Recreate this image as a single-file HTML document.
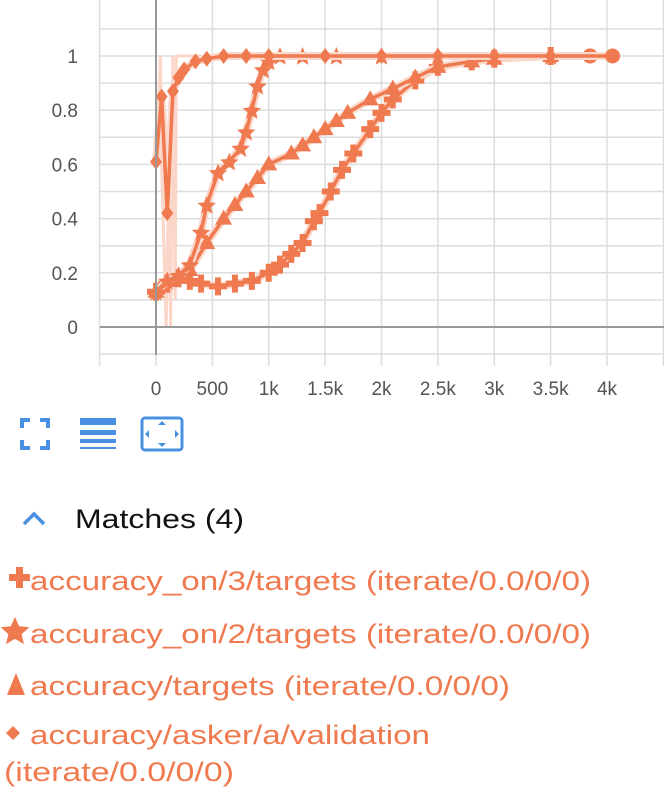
<!DOCTYPE html>
<html><head><meta charset="utf-8">
<style>
html,body{margin:0;padding:0;background:#fff;width:664px;height:796px;overflow:hidden}
svg{display:block;font-family:"Liberation Sans",sans-serif}
</style></head>
<body>
<svg id="root" width="664" height="796" viewBox="0 0 664 796">
<g id="grid"></g>
<g id="series"></g>
<g id="axes"></g>

<g fill="none" stroke="#4a90e2" stroke-width="4">
<path d="M22 428v-8h8M40 420h8v8M48 440v8h-8M30 448h-8v-8"/>
</g>
<g fill="#4a90e2">
<rect x="80" y="418" width="36" height="7"/><rect x="80" y="430" width="36" height="5"/><rect x="80" y="439" width="36" height="4"/><rect x="80" y="447" width="36" height="2"/>
</g>
<g>
<rect x="142" y="418" width="40" height="32" rx="3" fill="none" stroke="#4a90e2" stroke-width="3"/>
<path d="M162 421l4 4h-8zM162 447l4-4h-8zM145 434l4-4v8zM179 434l-4-4v8z" fill="#4a90e2"/>
</g>
<path d="M24 524l10-10 10 10" fill="none" stroke="#4a90e2" stroke-width="3.5"/>
<text x="75" y="528" font-size="27" fill="#111" textLength="169" lengthAdjust="spacingAndGlyphs">Matches (4)</text>

<g fill="#f07a50" font-size="27">
<path d="M9 574h7v-7h7v7h7v7h-7v7h-7v-7h-7z"/>
<text x="30" y="590" textLength="561" lengthAdjust="spacingAndGlyphs">accuracy_on/3/targets (iterate/0.0/0/0)</text>
<path d="M15 617l4.2 9.3 10.1 1-7.6 6.8 2.2 10-8.9-5.2-8.9 5.2 2.2-10-7.6-6.8 10.1-1z"/>
<text x="30" y="643" textLength="561" lengthAdjust="spacingAndGlyphs">accuracy_on/2/targets (iterate/0.0/0/0)</text>
<path d="M16 673l9 22h-18z"/>
<text x="30" y="695" textLength="480" lengthAdjust="spacingAndGlyphs">accuracy/targets (iterate/0.0/0/0)</text>
<path d="M13 726l7 7-7 7-7-7z"/>
<text x="30" y="744" textLength="400" lengthAdjust="spacingAndGlyphs">accuracy/asker/a/validation</text>
<text x="4" y="781" textLength="230" lengthAdjust="spacingAndGlyphs">(iterate/0.0/0/0)</text>
</g>
</svg>
<script>
// data
const xTicks = [0,500,1000,1500,2000,2500,3000,3500,4000];
const xTickLabels = ["0","500","1k","1.5k","2k","2.5k","3k","3.5k","4k"];
const yTicks = [0,0.2,0.4,0.6,0.8,1];
const yTickLabels = ["0","0.2","0.4","0.6","0.8","1"];
const valSteps = [0,50,100,150,200,250,350,450,600,800,1000,1500,2000,2500,3000,3500,4050];
const valValues = [0.61,0.85,0.42,0.87,0.92,0.95,0.98,0.99,1,1,1,1,1,1,1,1,1];
const valRawSteps = [0,40,50,90,110,130,150,170,180,200,400];
const valRawValues = [0.6,1,0.6,0,0.5,0,1,0.1,1,1,1];
const on2Steps = [0,100,200,300,400,450,550,650,750,800,850,900,950,1000,1100,1300,1600,2000,2500,3000,3500,3850];
const on2Values = [0.13,0.17,0.19,0.23,0.35,0.45,0.57,0.61,0.66,0.72,0.8,0.89,0.95,0.98,1,1,1,1,1,1,1,1];
const tgtSteps = [0,100,200,300,450,600,700,800,900,1000,1200,1300,1400,1500,1600,1700,1900,2100,2300,2500,2800,3000,3500,3850];
const tgtValues = [0.13,0.17,0.19,0.21,0.31,0.4,0.45,0.5,0.55,0.6,0.64,0.67,0.7,0.73,0.76,0.79,0.84,0.88,0.92,0.96,0.98,0.99,1,1];
const on3Steps = [0,100,200,300,400,550,700,850,1000,1100,1200,1300,1400,1450,1550,1650,1750,1900,2000,2100,2300,2500,2800,3000,3500,3850];
const on3Values = [0.13,0.16,0.18,0.17,0.16,0.15,0.16,0.17,0.2,0.23,0.27,0.31,0.39,0.42,0.5,0.58,0.64,0.73,0.79,0.84,0.91,0.96,0.98,0.99,1,1];

const X0=156, XK=112.75, Y0=327, YU=271;
const sx = v => X0 + v/1000*XK;
const sy = v => Y0 - v*YU;
const NS="http://www.w3.org/2000/svg";
const C="#f07a50";
function mk(tag, attrs, parent){const e=document.createElementNS(NS,tag);for(const k in attrs)e.setAttribute(k,attrs[k]);parent.appendChild(e);return e;}
const grid=document.getElementById('grid'), axes=document.getElementById('axes'), ser=document.getElementById('series');

for(let v=-0.1; v<=1.11; v+=0.1){
  const y=sy(v);
  const l=mk('line',{x1:100,x2:664,y1:y,y2:y,stroke:'#ddd','stroke-width':1.5},grid);
  
  
}
for(let v=-500; v<=4500; v+=500){
  const x=sx(v);
  const l=mk('line',{x1:x,x2:x,y1:0,y2:366,stroke:'#ddd','stroke-width':1.5},grid);
  
  
}
const za=mk('line',{x1:100,x2:664,y1:sy(0),y2:sy(0),stroke:'#999','stroke-width':2},axes);


const zb=mk('line',{x1:sx(0),x2:sx(0),y1:0,y2:355,stroke:'#999','stroke-width':2},axes);


yTicks.forEach((v,i)=>{
  const t=mk('text',{x:78,y:sy(v)+7,'text-anchor':'end','font-size':19,fill:'#555'},axes);
  t.textContent=yTickLabels[i];
  
  
});
xTicks.forEach((v,i)=>{
  const t=mk('text',{x:sx(v),y:395,'text-anchor':'middle','font-size':19,fill:'#555'},axes);
  t.textContent=xTickLabels[i];
  
  
});

const raw=mk('polyline',{points:valRawSteps.map((s,i)=>sx(s)+','+sy(valRawValues[i])).join(' '),fill:'none',stroke:'#fbd5c8','stroke-width':3},ser);



function marker(kind,x,y,g){
  let d;
  if(kind==='diamond') d=`M${x} ${y-8}l6 8-6 8-6-8z`;
  else if(kind==='tri') d=`M${x} ${y-9}l8.5 15h-17z`;
  else if(kind==='plus') d=`M${x-3} ${y-9}h6v6h6v6h-6v6h-6v-6h-6v-6h6z`;
  else d=`M${x} ${y-9}l2.6 6.3 6.6.6-5 4.4 1.6 6.5-5.8-3.6-5.8 3.6 1.6-6.5-5-4.4 6.6-.6z`;
  const m=mk('path',{d:d,fill:C},g);
  
  
}
function series(name,steps,vals,kind){
  const g=mk('g',{},ser);
  
  
  const pts=steps.map((s,i)=>sx(s)+','+sy(vals[i])).join(' ');
  const halo=mk('polyline',{points:pts,fill:'none',stroke:'#fbd8cc','stroke-width':8,'stroke-linejoin':'round'},g);
  
  
  const pl=mk('polyline',{points:pts,fill:'none',stroke:C,'stroke-width':3.5,'stroke-linejoin':'round'},g);
  
  
  steps.forEach((s,i)=>{ if(i<steps.length-1) marker(kind,sx(s),sy(vals[i]),g); });
  const n=steps.length-1;
  const c=mk('circle',{cx:sx(steps[n]),cy:sy(vals[n]),r:7.5,fill:C},g);
  
  
}
series('series-accuracy-on-3',on3Steps,on3Values,'plus');
series('series-accuracy-targets',tgtSteps,tgtValues,'tri');
series('series-accuracy-on-2',on2Steps,on2Values,'star');
series('series-validation',valSteps,valValues,'diamond');
</script>
</body></html>
